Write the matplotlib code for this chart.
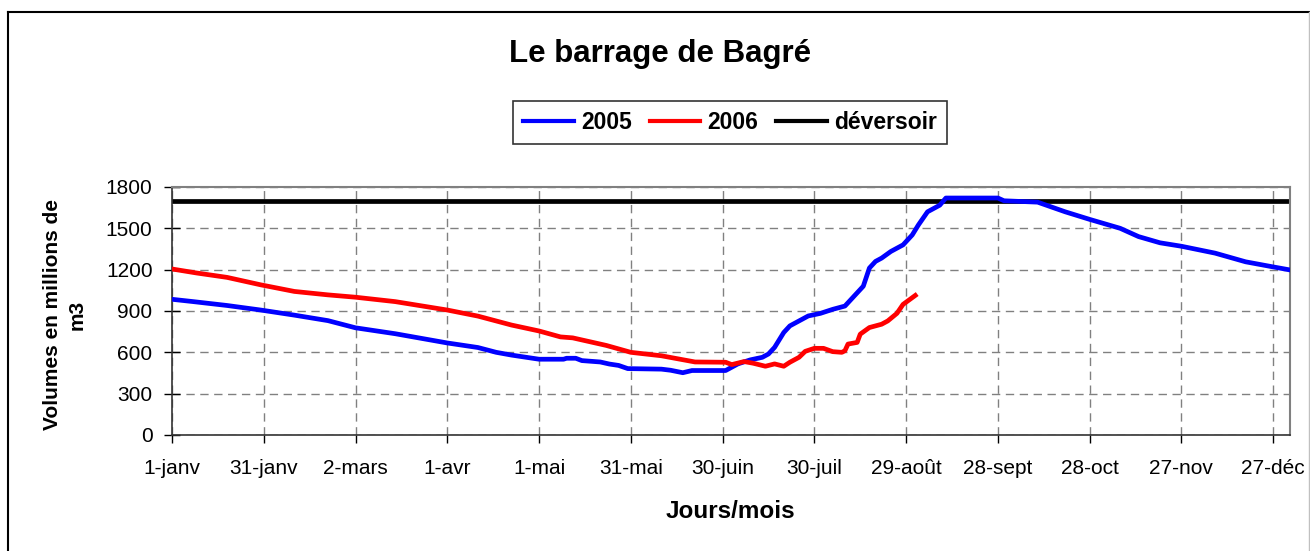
import matplotlib
matplotlib.use("Agg")
import matplotlib.pyplot as plt
from matplotlib.lines import Line2D

plt.rcParams['font.family'] = ['Liberation Sans', 'DejaVu Sans']

# ---- data ----
tick_days = [0, 30, 60, 90, 120, 150, 180, 210, 240, 270, 300, 330, 360]
tick_labels = ["1-janv", "31-janv", "2-mars", "1-avr", "1-mai", "31-mai", "30-juin",
               "30-juil", "29-août", "28-sept", "28-oct", "27-nov", "27-déc"]
y_ticks = [0, 300, 600, 900, 1200, 1500, 1800]

days_2005 = [0, 7, 18, 29, 40, 51, 60, 73, 90, 100, 106, 111, 120, 128, 129, 132, 134,
             140, 143, 146, 149, 160, 163, 167, 170, 181, 185, 189, 193, 195, 197, 200,
             202, 205, 208, 212, 216, 220, 222, 226, 228, 230, 232, 235, 239, 242, 244,
             247, 251, 253, 270, 272, 283, 292, 300, 310, 316, 323, 330, 341, 351, 360, 365]
vol_2005 = [985, 968, 940, 907, 870, 830, 778, 735, 668, 635, 600, 580, 550, 550, 557, 557, 540,
            530, 515, 505, 482, 478, 470, 452, 468, 468, 516, 545, 564, 588, 636, 744,
            792, 828, 864, 883, 912, 936, 984, 1080, 1212, 1260, 1284, 1332, 1380, 1452, 1524,
            1620, 1668, 1720, 1720, 1700, 1690, 1620, 1565, 1500, 1440, 1395, 1370, 1320, 1257, 1220, 1200]

days_2006 = [0, 8, 18, 29, 40, 51, 60, 73, 90, 100, 111, 120, 127, 131, 142, 150, 160,
             171, 181, 183, 187, 190, 194, 197, 200, 202, 205, 207, 210, 213, 216, 219,
             220, 221, 224, 225, 228, 230, 232, 234, 237, 239, 243]
vol_2006 = [1205, 1176, 1144, 1090, 1042, 1017, 1000, 968, 907, 863, 798, 755, 712, 705, 650, 600, 575,
            530, 528, 511, 533, 521, 499, 516, 499, 528, 564, 607, 629, 629, 605, 600,
            612, 660, 672, 732, 780, 792, 804, 828, 883, 948, 1013]

spillway = 1700

# ---- figure ----
W, H = 1310, 551
fig = plt.figure(figsize=(W / 100, H / 100), dpi=100)
ax = fig.add_axes([172 / W, 1 - 435 / H, (1290 - 172) / W, (435 - 187) / H])

ax.plot(days_2005, vol_2005, color='#0000ff', lw=3.4, solid_joinstyle='round', zorder=3)
ax.plot(days_2006, vol_2006, color='#ff0000', lw=3.4, solid_joinstyle='round', zorder=3)
ax.axhline(spillway, color='black', lw=3.4, zorder=2)

ax.set_xlim(0, 365.5)
ax.set_ylim(0, 1800)
ax.set_xticks(tick_days)
ax.set_xticklabels(tick_labels)
ax.set_yticks(y_ticks)

ax.grid(True, color='#808080', linestyle=(0, (6, 4)), lw=1)
ax.tick_params(axis='x', direction='out', length=6, width=1, labelsize=15, pad=11)
ax.tick_params(axis='y', direction='inout', length=12, width=1, labelsize=15, pad=8)

for s in ['top', 'right']:
    ax.spines[s].set_color('#808080')
    ax.spines[s].set_linewidth(1.5)
for s in ['left', 'bottom']:
    ax.spines[s].set_color('#333333')
    ax.spines[s].set_linewidth(1.2)

# title
fig.text(660 / W, 1 - 62 / H, "Le barrage de Bagré", ha='center', va='baseline',
         fontsize=22.5, fontweight='bold')

# legend
handles = [Line2D([], [], color='#0000ff', lw=3),
           Line2D([], [], color='#ff0000', lw=3),
           Line2D([], [], color='black', lw=3)]
leg = fig.legend(handles, ["2005", "2006", "déversoir"], loc='center',
                 bbox_to_anchor=(730 / W, 1 - 122.5 / H), ncol=3, frameon=True,
                 fancybox=False, prop={'weight': 'bold', 'size': 16.5},
                 handlelength=2.2, handletextpad=0.3, columnspacing=0.8,
                 borderpad=0.45)
leg.get_frame().set_edgecolor('black')
leg.get_frame().set_linewidth(1.2)

# axis labels
fig.text(65 / W, 1 - 315 / H, "Volumes en millions de\nm3", rotation=90,
         ha='center', va='center', multialignment='center',
         fontsize=15, fontweight='bold', linespacing=1.4)
fig.text(730 / W, 1 - 511 / H, "Jours/mois", ha='center', va='center',
         fontsize=17.5, fontweight='bold')

# outer chart border
fig.add_artist(Line2D([8 / W, 8 / W], [0, 1 - 12 / H], transform=fig.transFigure,
                      color='black', lw=1.5))
fig.add_artist(Line2D([8 / W, 1309 / W], [1 - 12 / H, 1 - 12 / H], transform=fig.transFigure,
                      color='black', lw=1.5))
fig.add_artist(Line2D([1309 / W, 1309 / W], [0, 1 - 12 / H], transform=fig.transFigure,
                      color='#c0c0c0', lw=1))

fig.savefig("out.png", dpi=100)
